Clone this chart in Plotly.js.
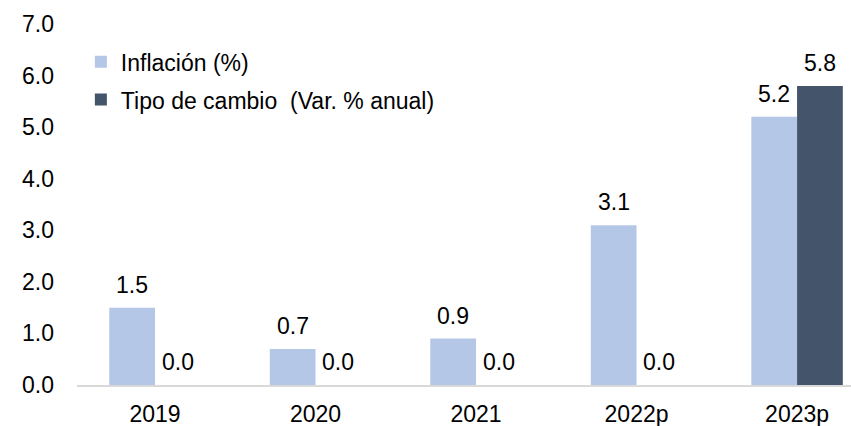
<!DOCTYPE html>
<html>
<head>
<meta charset="utf-8">
<script src="https://cdn.plot.ly/plotly-3.0.1.min.js"></script>
<style>html,body{margin:0;padding:0;background:#fff;}#chart{width:851px;height:426px;}</style>
</head>
<body>
<div id="chart"></div>
<script>
var categories = ["2019", "2020", "2021", "2022p", "2023p"];
var inflacion = [1.5, 0.7, 0.9, 3.1, 5.2];
var tipoCambio = [0.0, 0.0, 0.0, 0.0, 5.8];
var yTicks = [0, 1, 2, 3, 4, 5, 6, 7];
var yTickLabels = ["0.0", "1.0", "2.0", "3.0", "4.0", "5.0", "6.0", "7.0"];
var seriesNames = ["Inflación (%)", "Tipo de cambio\u00a0 (Var. % anual)"];

var idx = categories.map(function (c, i) { return i; });
var bargap = 0.43;
var off = (1 - bargap) / 4;
var font = "Liberation Sans, Arial, sans-serif";
var fs = 23;

var traces = [
  {type: "bar", name: seriesNames[0], x: idx, y: inflacion, marker: {color: "#B4C7E7"}, legendgroup: "a", hoverinfo: "skip"},
  {type: "bar", name: seriesNames[1], x: idx, y: tipoCambio, marker: {color: "#44546A"}, legendgroup: "b", hoverinfo: "skip"}
];

var annotations = [];
idx.forEach(function (i) {
  annotations.push({x: i - off, y: inflacion[i], text: inflacion[i].toFixed(1), showarrow: false, yanchor: "bottom", yshift: 8, font: {family: font, size: fs, color: "#000"}});
  annotations.push({x: i + off, y: tipoCambio[i], text: tipoCambio[i].toFixed(1), showarrow: false, yanchor: "bottom", yshift: 8, font: {family: font, size: fs, color: "#000"}});
});

var layout = {
  width: 851, height: 426,
  margin: {l: 77, r: 0, t: 24, b: 41},
  paper_bgcolor: "#fff", plot_bgcolor: "#fff",
  font: {family: font, size: fs, color: "#000"},
  barmode: "group", bargap: bargap, bargroupgap: 0,
  showlegend: true,
  legend: {x: 0.005, y: 0.955, xanchor: "left", yanchor: "top", bgcolor: "rgba(0,0,0,0)", traceorder: "grouped", tracegroupgap: 5, font: {family: font, size: fs, color: "#000"}, itemwidth: 30},
  xaxis: {range: [-0.486, 4.336], tickvals: idx, ticktext: categories, showgrid: false, zeroline: false, showline: true, linecolor: "#D9D9D9", linewidth: 2, ticks: "", ticklabelstandoff: 7, fixedrange: true},
  yaxis: {range: [0, 7], tickvals: yTicks, ticktext: yTickLabels, showgrid: false, zeroline: false, showline: false, ticks: "", ticklabelstandoff: 22, fixedrange: true},
  annotations: annotations
};

Plotly.newPlot("chart", traces, layout, {displayModeBar: false, staticPlot: true});
</script>
</body>
</html>
